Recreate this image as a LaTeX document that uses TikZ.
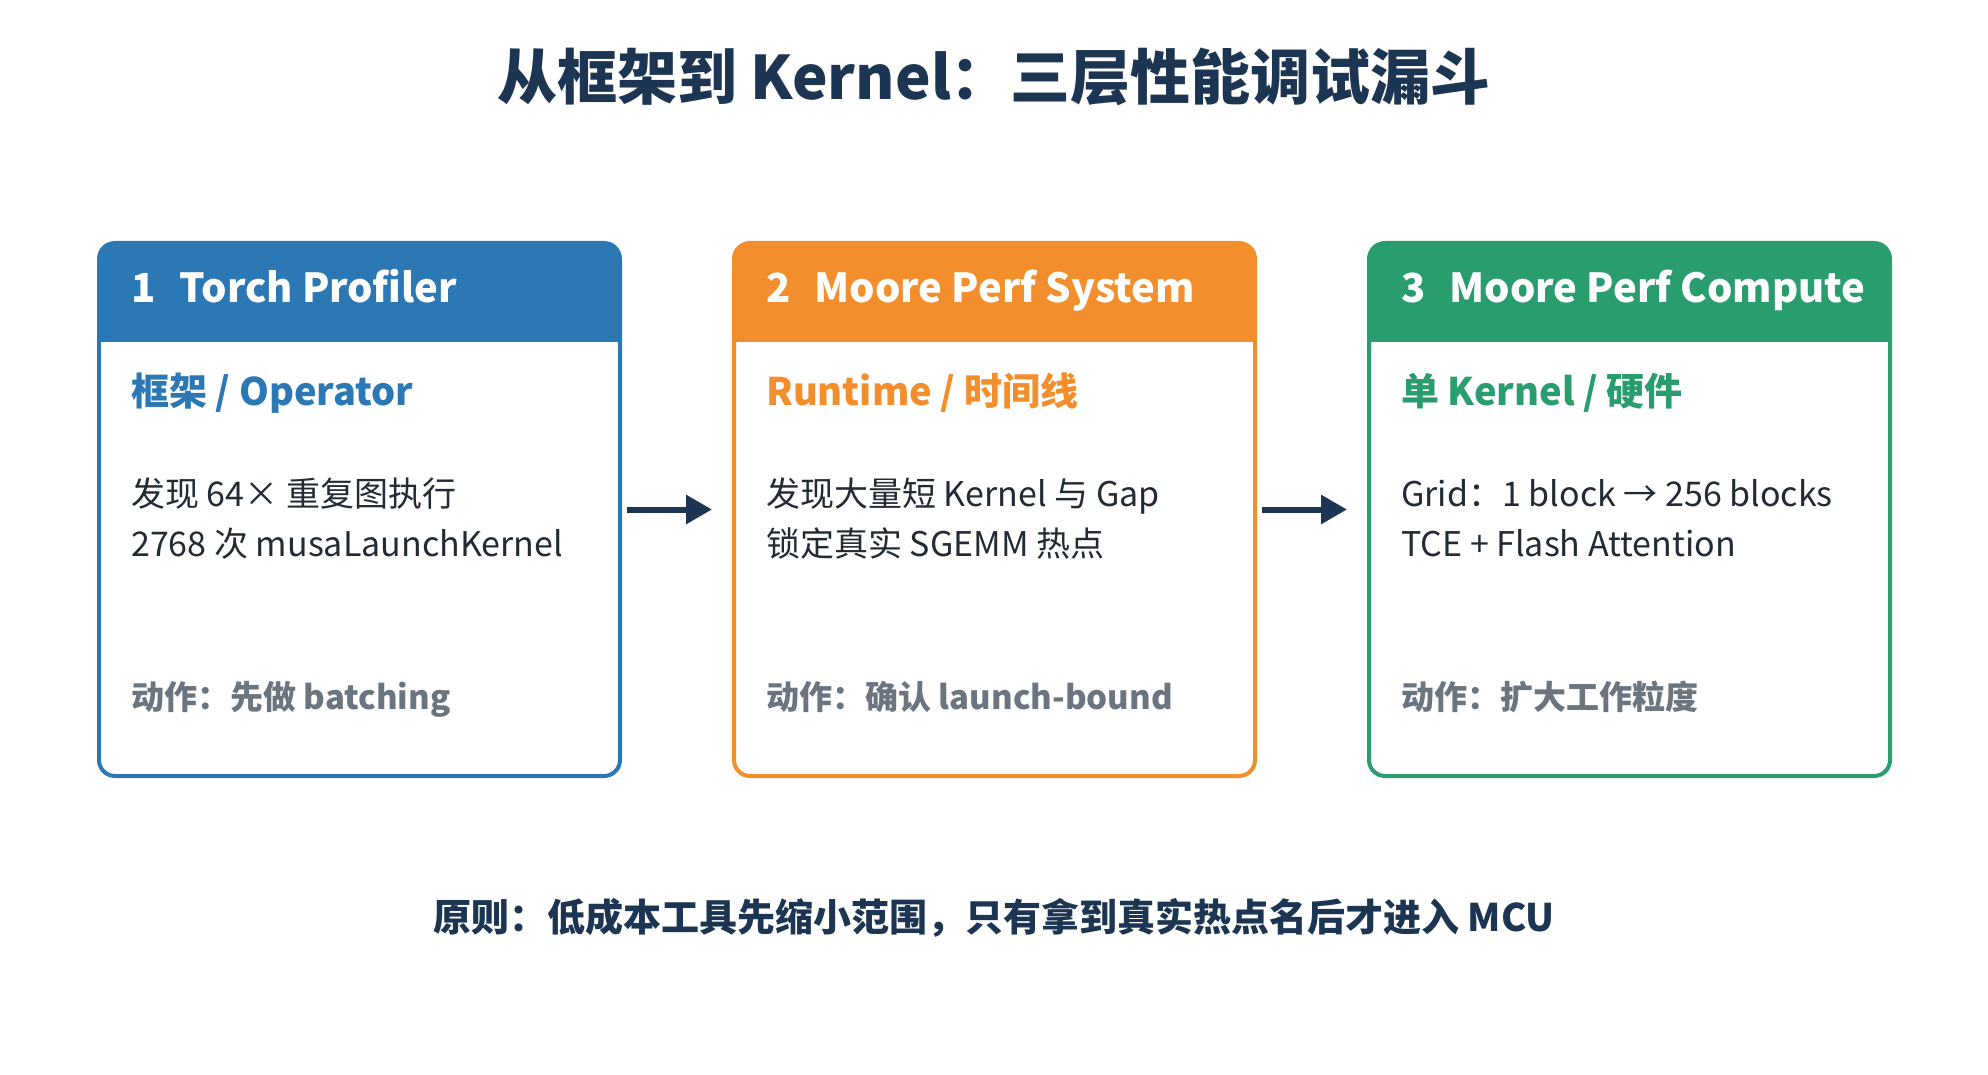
\documentclass[tikz,border=0pt]{standalone}
\usepackage{fontspec}
\setmainfont{Noto Sans CJK SC}
\usetikzlibrary{positioning, arrows.meta}

\definecolor{profblue}{HTML}{2B78B5}
\definecolor{sysorange}{HTML}{F28E2C}
\definecolor{compgreen}{HTML}{2A9D6E}
\definecolor{inknavy}{HTML}{1B3552}
\definecolor{bodyink}{HTML}{222B35}
\definecolor{actgray}{HTML}{6B7580}

\begin{document}
\begin{tikzpicture}[x=1pt, y=-1pt, node distance=110pt,
  stage/.style={draw=#1, line width=4pt, rounded corners=16pt, inner sep=0pt,
    minimum width=521pt, minimum height=533pt,
    path picture={\fill[#1, sharp corners] (path picture bounding box.north west) rectangle
      ([yshift=-99pt]path picture bounding box.north east);}},
  head text/.style={anchor=base west, inner sep=0pt, text=white,
    font=\fontsize{40}{48}\selectfont\bfseries},
  sub text/.style={anchor=base west, inner sep=0pt, text=#1,
    font=\fontsize{38}{46}\selectfont\bfseries},
  body text/.style={anchor=base west, inner sep=0pt, text=bodyink,
    font=\fontsize{34}{50}\selectfont},
  act text/.style={anchor=base west, inner sep=0pt, text=actgray,
    font=\fontsize{33}{40}\selectfont\bfseries},
  flow/.style={-{Triangle[length=26pt,width=28pt]}, line width=6pt, draw=inknavy,
    shorten <=5pt, shorten >=20pt}]

\fill[white] (0,0) rectangle (1988,1075);
\useasboundingbox (0,0) rectangle (1988,1075);

\node[text=inknavy, font=\fontsize{60}{72}\selectfont\bfseries] (title) at (994,77)
  {从框架到 Kernel：三层性能调试漏斗};

% the three tools
\node[stage=profblue] (prof) at (359.5,509.5) {};
\node[stage=sysorange] (sys) [right=of prof] {};
\node[stage=compgreen] (comp) [right=of sys] {};

\node[head text] (prof-head) at ([shift={(34,61)}]prof.north west) {1\hspace{0.6em}Torch Profiler};
\node[sub text=profblue] (prof-sub) at ([shift={(34,164)}]prof.north west) {框架 / Operator};
\node[body text] (prof-line1) at ([shift={(34,265)}]prof.north west) {发现 64× 重复图执行};
\node[body text] (prof-line2) at ([shift={(34,315)}]prof.north west) {2768 次 musaLaunchKernel};
\node[act text] (prof-act) at ([shift={(34,468)}]prof.north west) {动作：先做 batching};

\node[head text] (sys-head) at ([shift={(34,61)}]sys.north west) {2\hspace{0.6em}Moore Perf System};
\node[sub text=sysorange] (sys-sub) at ([shift={(34,164)}]sys.north west) {Runtime / 时间线};
\node[body text] (sys-line1) at ([shift={(34,265)}]sys.north west) {发现大量短 Kernel 与 Gap};
\node[body text] (sys-line2) at ([shift={(34,315)}]sys.north west) {锁定真实 SGEMM 热点};
\node[act text] (sys-act) at ([shift={(34,468)}]sys.north west) {动作：确认 launch-bound};

\node[head text] (comp-head) at ([shift={(34,61)}]comp.north west) {3\hspace{0.6em}Moore Perf Compute};
\node[sub text=compgreen] (comp-sub) at ([shift={(34,164)}]comp.north west) {单 Kernel / 硬件};
\node[body text] (comp-line1) at ([shift={(34,265)}]comp.north west) {Grid：1 block → 256 blocks};
\node[body text] (comp-line2) at ([shift={(34,315)}]comp.north west) {TCE + Flash Attention};
\node[act text] (comp-act) at ([shift={(34,468)}]comp.north west) {动作：扩大工作粒度};

\draw[flow] (prof) -- (sys);
\draw[flow] (sys) -- (comp);

\node[text=inknavy, font=\fontsize{38}{46}\selectfont\bfseries] (rule) at (994,918)
  {原则：低成本工具先缩小范围，只有拿到真实热点名后才进入 MCU};

\end{tikzpicture}
\end{document}
